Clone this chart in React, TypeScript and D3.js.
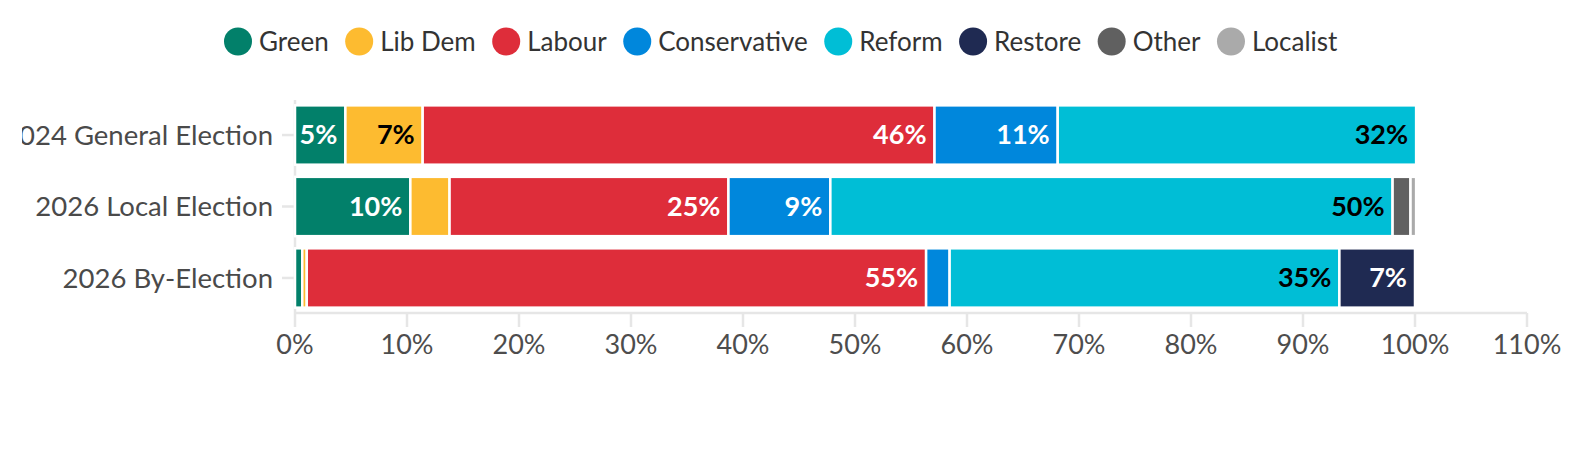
import { useEffect, useRef } from "react";
import * as d3 from "d3";

// rows (top to bottom)
const elections = ["2024 General Election", "2026 Local Election", "2026 By-Election"];

// parties in stack order
const parties = ["Green", "Lib Dem", "Labour", "Conservative", "Reform", "Restore", "Other", "Localist"];
const partyColors = ["#02806A", "#FDBB30", "#DE2D3A", "#0087DC", "#00BED6", "#1F2A52", "#606060", "#AAAAAA"];
// text colour of the value labels inside each party's segment
const labelColors = ["#fff", "#000", "#fff", "#fff", "#000", "#fff", "#fff", "#000"];

// vote share (%) per election, same order as elections
const green = [4.5, 10.3, 0.65];
const libDem = [6.9, 3.5, 0.4];
const labour = [45.7, 24.9, 55.3];
const conservative = [11.0, 9.1, 2.1];
const reform = [32.0, 50.2, 34.8];
const restore = [0, 0, 6.75];
const other = [0, 1.6, 0];
const localist = [0, 0.5, 0];

const xTicks = [0, 10, 20, 30, 40, 50, 60, 70, 80, 90, 100, 110];

const W = 1588;
const H = 474;
const FONT = "Lato, 'Open Sans', sans-serif";
const AXIS = "#e6e6e6";

export default function App() {
	const svgRef = useRef<SVGSVGElement>(null);

	useEffect(() => {
		if (!svgRef.current) return;
		const svg = d3.select(svgRef.current);
		svg.selectAll("*").remove();

		const series = [green, libDem, labour, conservative, reform, restore, other, localist];
		const rows = elections.map((name, i) => {
			const r: Record<string, any> = { name };
			parties.forEach((p, j) => (r[p] = series[j][i]));
			return r;
		});
		const stacked = d3.stack<any>().keys(parties)(rows);

		const x = d3.scaleLinear().domain([0, 110]).range([295, 1527]);
		const y = d3
			.scaleBand<string>()
			.domain(elections)
			.range([100, 313])
			.paddingInner(0.17)
			.paddingOuter(0.075);

		svg.append("defs")
			.append("clipPath")
			.attr("id", "chart-clip")
			.append("rect")
			.attr("x", 22)
			.attr("y", 0)
			.attr("width", W)
			.attr("height", H);

		const g = svg.append("g").attr("clip-path", "url(#chart-clip)").style("font-family", FONT);

		// axes
		const base = y.range()[1];
		g.append("line")
			.attr("x1", x(0)).attr("x2", x(110))
			.attr("y1", base).attr("y2", base)
			.attr("stroke", AXIS).attr("stroke-width", 2.5);
		g.append("line")
			.attr("x1", x(0)).attr("x2", x(0))
			.attr("y1", y.range()[0]).attr("y2", base)
			.attr("stroke", AXIS).attr("stroke-width", 2.5);

		const xt = g.append("g").selectAll("g").data(xTicks).join("g")
			.attr("transform", (d) => `translate(${x(d)},${base})`);
		xt.append("line").attr("y1", 0).attr("y2", 14).attr("stroke", AXIS).attr("stroke-width", 2.5);
		xt.append("text")
			.attr("y", 32)
			.attr("dy", "0.35em")
			.attr("text-anchor", "middle")
			.attr("fill", "#4d4d4d")
			.style("font-size", "27px")
			.text((d) => `${d}%`);

		const yt = g.append("g").selectAll("g").data(elections).join("g")
			.attr("transform", (d) => `translate(${x(0)},${(y(d) ?? 0) + y.bandwidth() / 2})`);
		yt.append("line").attr("x1", -13).attr("x2", 0).attr("stroke", AXIS).attr("stroke-width", 2.5);
		yt.append("text")
			.attr("x", -22)
			.attr("dy", "0.35em")
			.attr("text-anchor", "end")
			.attr("fill", "#4a4a4a")
			.style("font-size", "27.5px")
			.text((d) => d);

		// bars
		const layers = g.append("g").selectAll("g").data(stacked).join("g")
			.attr("fill", (_, i) => partyColors[i]);
		layers.selectAll("rect")
			.data((d) => d.filter((s) => s[1] - s[0] > 0))
			.join("rect")
			.attr("x", (d) => x(d[0]))
			.attr("y", (d) => y(d.data.name) ?? 0)
			.attr("width", (d) => x(d[1]) - x(d[0]))
			.attr("height", y.bandwidth())
			.attr("stroke", "#fff")
			.attr("stroke-width", 2.5);

		// value labels
		stacked.forEach((layer, i) => {
			g.append("g").selectAll("text")
				.data(layer.filter((s) => s[1] - s[0] >= 4))
				.join("text")
				.attr("x", (d) => x(d[1]) - 8)
				.attr("y", (d) => (y(d.data.name) ?? 0) + y.bandwidth() / 2)
				.attr("dy", "0.35em")
				.attr("text-anchor", "end")
				.attr("fill", labelColors[i])
				.style("font-size", "27px")
				.style("font-weight", "700")
				.text((d) => `${Math.round(d[1] - d[0])}%`);
		});

		// legend, laid out left to right from measured text widths
		const legend = g.append("g").attr("transform", "translate(224,0)");
		let cx = 0;
		parties.forEach((p, i) => {
			const item = legend.append("g").attr("transform", `translate(${cx},41.5)`);
			item.append("circle").attr("cx", 14).attr("r", 14).attr("fill", partyColors[i]);
			const t = item.append("text")
				.attr("x", 35)
				.attr("dy", "0.35em")
				.attr("fill", "#333")
				.style("font-size", "26px")
				.text(p);
			const w = (t.node() as SVGTextElement).getComputedTextLength();
			cx += 35 + w + 16.5;
		});
	}, []);

	return (
		<div style={{ position: "absolute", left: 0, top: 0 }}>
			<svg ref={svgRef} width={W} height={H} style={{ display: "block", background: "#fff" }} />
		</div>
	);
}
